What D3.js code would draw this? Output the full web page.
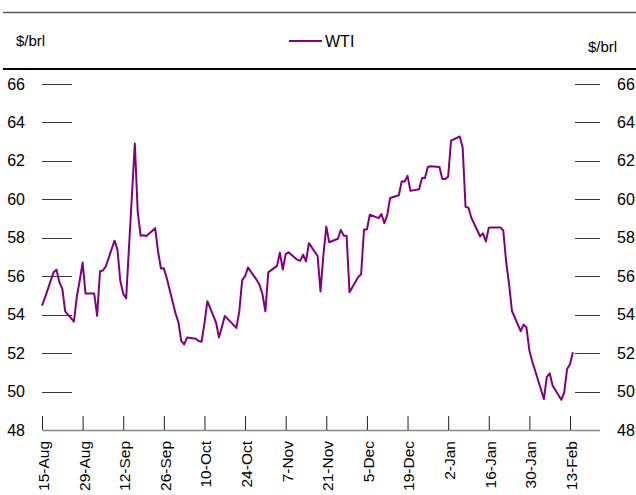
<!DOCTYPE html>
<html>
<head>
<meta charset="utf-8">
<script src="https://cdn.jsdelivr.net/npm/d3@7"></script>
<style>
  body { margin: 0; background: #fff; }
  svg { display: block; font-family: "Liberation Sans", Arial, sans-serif; }
</style>
</head>
<body>
<svg id="chart" width="636" height="495"></svg>
<script>
// WTI daily close, $/brl (holidays carry the previous value)
const dates = [
  "2019-08-15","2019-08-16","2019-08-19","2019-08-20","2019-08-21","2019-08-22","2019-08-23",
  "2019-08-26","2019-08-27","2019-08-28","2019-08-29","2019-08-30",
  "2019-09-02","2019-09-03","2019-09-04","2019-09-05","2019-09-06",
  "2019-09-09","2019-09-10","2019-09-11","2019-09-12","2019-09-13",
  "2019-09-16","2019-09-17","2019-09-18","2019-09-19","2019-09-20",
  "2019-09-23","2019-09-24","2019-09-25","2019-09-26","2019-09-27",
  "2019-09-30","2019-10-01","2019-10-02","2019-10-03","2019-10-04",
  "2019-10-07","2019-10-08","2019-10-09","2019-10-10","2019-10-11",
  "2019-10-14","2019-10-15","2019-10-16","2019-10-17","2019-10-18",
  "2019-10-21","2019-10-22","2019-10-23","2019-10-24","2019-10-25",
  "2019-10-28","2019-10-29","2019-10-30","2019-10-31","2019-11-01",
  "2019-11-04","2019-11-05","2019-11-06","2019-11-07","2019-11-08",
  "2019-11-11","2019-11-12","2019-11-13","2019-11-14","2019-11-15",
  "2019-11-18","2019-11-19","2019-11-20","2019-11-21","2019-11-22",
  "2019-11-25","2019-11-26","2019-11-27","2019-11-28","2019-11-29",
  "2019-12-02","2019-12-03","2019-12-04","2019-12-05","2019-12-06",
  "2019-12-09","2019-12-10","2019-12-11","2019-12-12","2019-12-13",
  "2019-12-16","2019-12-17","2019-12-18","2019-12-19","2019-12-20",
  "2019-12-23","2019-12-24","2019-12-25","2019-12-26","2019-12-27",
  "2019-12-30","2019-12-31","2020-01-01","2020-01-02","2020-01-03",
  "2020-01-06","2020-01-07","2020-01-08","2020-01-09","2020-01-10",
  "2020-01-13","2020-01-14","2020-01-15","2020-01-16","2020-01-17",
  "2020-01-20","2020-01-21","2020-01-22","2020-01-23","2020-01-24",
  "2020-01-27","2020-01-28","2020-01-29","2020-01-30","2020-01-31",
  "2020-02-03","2020-02-04","2020-02-05","2020-02-06","2020-02-07",
  "2020-02-10","2020-02-11","2020-02-12","2020-02-13","2020-02-14"
];
const wti = [
  54.47,54.87,56.21,56.34,55.68,55.35,54.17,
  53.64,54.93,55.78,56.71,55.10,
  55.10,53.94,56.26,56.30,56.52,
  57.85,57.40,55.75,55.09,54.85,
  62.90,59.34,58.11,58.13,58.09,
  58.50,57.29,56.40,56.41,55.91,
  54.07,53.62,52.64,52.45,52.81,
  52.75,52.63,52.59,53.55,54.70,
  53.59,52.81,53.36,53.93,53.78,
  53.31,54.16,55.80,56.00,56.45,
  55.81,55.54,55.06,54.18,56.20,
  56.54,57.23,56.35,57.15,57.24,
  56.86,56.80,57.12,56.77,57.72,
  57.05,55.21,57.11,58.58,57.77,
  57.95,58.41,58.11,58.11,55.17,
  55.96,56.10,58.43,58.43,59.20,
  59.02,59.24,58.76,59.18,60.07,
  60.21,60.94,60.93,61.22,60.44,
  60.52,61.11,61.11,61.68,61.72,
  61.68,61.06,61.06,61.18,63.05,
  63.27,62.70,59.61,59.56,59.04,
  58.08,58.23,57.81,58.52,58.54,
  58.54,58.38,56.74,55.59,54.19,
  53.14,53.48,53.33,52.14,51.56,
  50.11,49.61,50.75,50.95,50.32,
  49.57,49.94,51.17,51.42,52.05
];
const xTickDates = [
  "2019-08-15","2019-08-29","2019-09-12","2019-09-26","2019-10-10","2019-10-24","2019-11-07",
  "2019-11-21","2019-12-05","2019-12-19","2020-01-02","2020-01-16","2020-01-30","2020-02-13"
];
const yTicks = [48, 50, 52, 54, 56, 58, 60, 62, 64, 66];
const seriesName = "WTI";
const unitLabel = "$/brl";

const parse = d3.timeParse("%Y-%m-%d");
const data = dates.map((d, i) => ({ date: parse(d), value: wti[i] }));
const lineColor = "#800080";

const svg = d3.select("#chart");

// scales: axis runs a little past the last tick, like the original
const x = d3.scaleTime()
  .domain([parse("2019-08-15"), parse("2020-02-23")])
  .range([42, 599]);
const y = d3.scaleLinear()
  .domain([48, 66])
  .range([430, 84]);

// header rules
svg.append("line").attr("x1", 3).attr("x2", 636).attr("y1", 12.5).attr("y2", 12.5)
  .attr("stroke", "#595959").attr("stroke-width", 1.5);
svg.append("line").attr("x1", 3).attr("x2", 636).attr("y1", 69).attr("y2", 69)
  .attr("stroke", "#000").attr("stroke-width", 2);

// unit labels
svg.append("text").attr("x", 16).attr("y", 45.5).attr("font-size", 15).attr("fill", "#000").text(unitLabel);
svg.append("text").attr("x", 588).attr("y", 51.5).attr("font-size", 15).attr("fill", "#000").text(unitLabel);

// legend
svg.append("line").attr("x1", 289).attr("x2", 322).attr("y1", 41).attr("y2", 41)
  .attr("stroke", lineColor).attr("stroke-width", 2);
svg.append("text").attr("x", 325).attr("y", 46.5).attr("font-size", 16).attr("fill", "#000").text(seriesName);

// short grid marks at left and right edges
const yg = svg.append("g");
yg.selectAll(".gl")
  .data(yTicks.filter(v => v > 48))
  .enter().append("line")
  .attr("x1", 42).attr("x2", 72)
  .attr("y1", d => Math.round(y(d)) + 0.5).attr("y2", d => Math.round(y(d)) + 0.5)
  .attr("stroke", "#3a3a3a").attr("stroke-width", 1);
yg.selectAll(".gr")
  .data(yTicks)
  .enter().append("line")
  .attr("x1", 575).attr("x2", 600)
  .attr("y1", d => Math.round(y(d)) + 0.5).attr("y2", d => Math.round(y(d)) + 0.5)
  .attr("stroke", "#3a3a3a").attr("stroke-width", 1);

// y labels both sides
svg.append("g").selectAll("text")
  .data(yTicks).enter().append("text")
  .attr("x", 25).attr("y", d => y(d)).attr("dy", "0.35em")
  .attr("text-anchor", "end").attr("font-size", 16).attr("fill", "#000")
  .text(d => d);
svg.append("g").selectAll("text")
  .data(yTicks).enter().append("text")
  .attr("x", 617).attr("y", d => y(d)).attr("dy", "0.35em")
  .attr("text-anchor", "start").attr("font-size", 16).attr("fill", "#000")
  .text(d => d);

// x axis
const xAxis = svg.append("g")
  .attr("transform", "translate(0,430)")
  .call(d3.axisBottom(x)
    .tickValues(xTickDates.map(parse))
    .tickSizeInner(-14)
    .tickSizeOuter(0)
    .tickFormat(d3.timeFormat("%-d-%b")));
xAxis.select(".domain").attr("stroke", "#878787").attr("stroke-width", 1.5);
xAxis.selectAll(".tick line").attr("stroke", "#222").attr("stroke-width", 1);
xAxis.selectAll("text")
  .attr("transform", "rotate(-90)")
  .attr("text-anchor", "end")
  .attr("x", -11)
  .attr("y", 1)
  .attr("dy", "0.35em")
  .attr("font-size", 15.5)
  .attr("font-family", "Liberation Sans, Arial, sans-serif")
  .attr("fill", "#000");

// WTI line
const line = d3.line()
  .x(d => x(d.date))
  .y(d => y(d.value));
svg.append("path")
  .datum(data)
  .attr("fill", "none")
  .attr("stroke", lineColor)
  .attr("stroke-width", 2)
  .attr("stroke-linejoin", "round")
  .attr("d", line);
</script>
</body>
</html>
